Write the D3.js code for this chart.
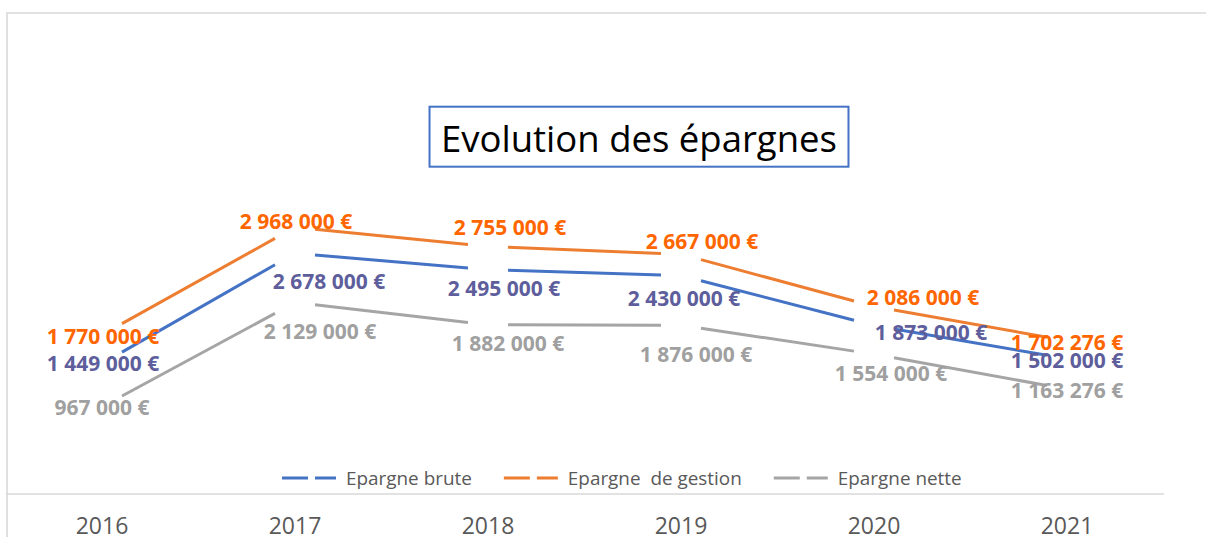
<!DOCTYPE html>
<html>
<head>
<meta charset="utf-8">
<script src="https://d3js.org/d3.v7.min.js"></script>
<style>
	body { margin: 0; background: #fff; }
	text { font-family: "Open Sans", sans-serif; }
</style>
</head>
<body>
<script>
// chart data
var years = ["2016", "2017", "2018", "2019", "2020", "2021"];
var epargneBrute = [1449000, 2678000, 2495000, 2430000, 1873000, 1502000];
var epargneGestion = [1770000, 2968000, 2755000, 2667000, 2086000, 1702276];
var epargneNette = [967000, 2129000, 1882000, 1876000, 1554000, 1163276];
var seriesNames = ["Epargne brute", "Epargne  de gestion", "Epargne nette"];

// label nudges (dx, dy) like the hand moved labels of the original
var labelNudges = [
	[[1, 0], [34, 28], [16, 19], [3, 23], [57, 7], [0, 2]],
	[[1, 2], [1, -6], [22, -19], [21, -13], [49, -9], [0, 2]],
	[[0, 1], [25, 29], [20, 19], [15, 29], [17, 19], [0, 1]]
];

window.onload = function(){

	var w = 1206, h = 537;

	var svg = d3.select("body")
		.append("svg")
		.attr("width", w)
		.attr("height", h);

	var series = [
		{ name: seriesNames[0], values: epargneBrute, line: "#4472C4", label: "#5E5E9C" },
		{ name: seriesNames[1], values: epargneGestion, line: "#ED7D31", label: "#FF6600" },
		{ name: seriesNames[2], values: epargneNette, line: "#A5A5A5", label: "#A0A0A0" }
	];

	var x = d3.scaleBand()
		.domain(years)
		.range([5.5, 1163.5]);

	var y = d3.scaleLinear()
		.domain([0, 5000000])
		.range([493.5, 45]);

	var cx = function(i){ return x(years[i]) + x.bandwidth() / 2; };

	var fmt = d3.formatLocale({
		decimal: ",",
		thousands: "\u00a0",
		grouping: [3],
		currency: ["", "\u00a0€"]
	}).format("$,.0f");

	// chart area border (cropped)
	svg.append("path")
		.attr("d", "M7,537 V13 H1206")
		.attr("fill", "none")
		.attr("stroke", "#D9D9D9")
		.attr("stroke-width", 1.6);

	// x axis
	var xAxis = d3.axisBottom(x).tickSize(0).tickPadding(24);
	var axis = svg.append("g")
		.attr("class", "axis")
		.attr("transform", "translate(0," + y(0) + ")")
		.call(xAxis);
	axis.select(".domain")
		.attr("stroke", "#D9D9D9")
		.attr("stroke-width", 1.6);
	axis.selectAll("text")
		.attr("fill", "#595959")
		.attr("font-size", "23px")
		.attr("font-family", "Open Sans")
		.attr("dy", "0.71em");

	// lines, broken around each point
	var gap = 20;
	series.forEach(function(s){
		var segs = d3.pairs(d3.range(years.length));
		svg.append("g").selectAll("line")
			.data(segs)
			.enter()
			.append("line")
			.attr("x1", function(d){ return cx(d[0]) + gap; })
			.attr("x2", function(d){ return cx(d[1]) - gap; })
			.attr("y1", function(d){
				var y0 = y(s.values[d[0]]), y1 = y(s.values[d[1]]);
				return y0 + (y1 - y0) * gap / (cx(d[1]) - cx(d[0]));
			})
			.attr("y2", function(d){
				var y0 = y(s.values[d[0]]), y1 = y(s.values[d[1]]);
				return y1 - (y1 - y0) * gap / (cx(d[1]) - cx(d[0]));
			})
			.attr("stroke", s.line)
			.attr("stroke-width", 3);
	});

	// data labels
	series.forEach(function(s, k){
		svg.append("g").selectAll("text")
			.data(s.values)
			.enter()
			.append("text")
			.attr("text-anchor", "middle")
			.attr("x", function(d, i){ return cx(i) + labelNudges[k][i][0]; })
			.attr("y", function(d, i){ return y(d) + labelNudges[k][i][1] + 7.5; })
			.attr("font-size", "21px")
			.attr("font-weight", "bold")
			.attr("fill", s.label)
			.text(function(d){ return fmt(d); });
	});

	// title
	var title = svg.append("g");
	var titleText = title.append("text")
		.attr("text-anchor", "middle")
		.attr("x", 639)
		.attr("y", 151.5)
		.attr("font-size", "36.5px")
		.attr("fill", "#000")
		.text("Evolution des épargnes");
	var tw = titleText.node().getComputedTextLength();
	title.insert("rect", "text")
		.attr("x", 639 - tw / 2 - 11.5)
		.attr("y", 106.7)
		.attr("width", tw + 23)
		.attr("height", 60)
		.attr("fill", "#fff")
		.attr("stroke", "#4472C4")
		.attr("stroke-width", 2);

	// legend
	var legend = svg.append("g").attr("class", "legend");
	var lx = 282;
	series.forEach(function(s){
		legend.append("line")
			.attr("x1", lx)
			.attr("x2", lx + 54)
			.attr("y1", 478)
			.attr("y2", 478)
			.attr("stroke", s.line)
			.attr("stroke-width", 3)
			.attr("stroke-dasharray", "26 7");
		var t = legend.append("text")
			.attr("x", lx + 64)
			.attr("y", 485)
			.attr("font-size", "18.9px")
			.attr("fill", "#595959")
			.style("white-space", "pre")
			.text(s.name);
		lx += 64 + t.node().getComputedTextLength() + 32;
	});
};
</script>
</body>
</html>
